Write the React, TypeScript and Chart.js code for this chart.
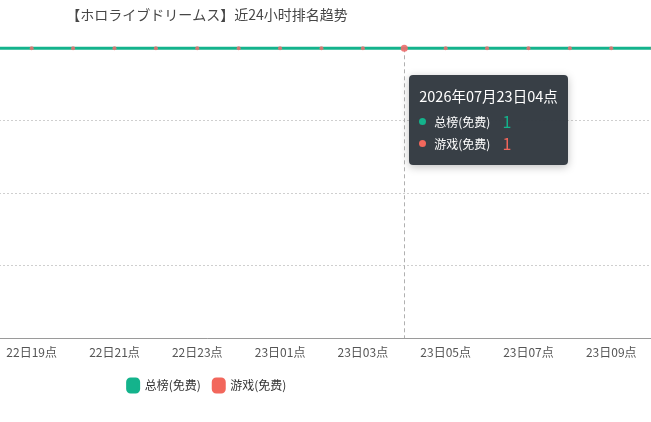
import { useEffect, useRef } from "react";
import { Chart, registerables } from "chart.js";

Chart.register(...registerables);

const titleText = "【ホロライブドリームス】近24小时排名趋势";

const times = [
  "2026年07月22日10点",
  "2026年07月22日11点",
  "2026年07月22日12点",
  "2026年07月22日13点",
  "2026年07月22日14点",
  "2026年07月22日15点",
  "2026年07月22日16点",
  "2026年07月22日17点",
  "2026年07月22日18点",
  "2026年07月22日19点",
  "2026年07月22日20点",
  "2026年07月22日21点",
  "2026年07月22日22点",
  "2026年07月22日23点",
  "2026年07月23日00点",
  "2026年07月23日01点",
  "2026年07月23日02点",
  "2026年07月23日03点",
  "2026年07月23日04点",
  "2026年07月23日05点",
  "2026年07月23日06点",
  "2026年07月23日07点",
  "2026年07月23日08点",
  "2026年07月23日09点",
  "2026年07月23日10点",
];

const tickTimes = [
  "2026年07月22日19点",
  "2026年07月22日21点",
  "2026年07月22日23点",
  "2026年07月23日01点",
  "2026年07月23日03点",
  "2026年07月23日05点",
  "2026年07月23日07点",
  "2026年07月23日09点",
];

const seriesNames = ["总榜(免费)", "游戏(免费)"];
const totalRank = [1, 1, 1, 1, 1, 1, 1, 1, 1, 1, 1, 1, 1, 1, 1, 1, 1, 1, 1, 1, 1, 1, 1, 1, 1];
const gameRank = [1, 1, 1, 1, 1, 1, 1, 1, 1, 1, 1, 1, 1, 1, 1, 1, 1, 1, 1, 1, 1, 1, 1, 1, 1];

const hoverTime = "2026年07月23日04点";

const GREEN = "#14b38c";
const RED = "#f2675c";
const FONT = '"Noto Sans CJK SC", "Noto Sans", sans-serif';

// dashed vertical pointer line under the hovered column
const crosshair = {
  id: "crosshair",
  beforeDatasetsDraw(chart: any) {
    const active = chart.tooltip?.getActiveElements() || [];
    if (!active.length) return;
    const x = active[0].element.x;
    const { top, bottom } = chart.chartArea;
    const ctx = chart.ctx;
    ctx.save();
    ctx.strokeStyle = "#b0b0b0";
    ctx.lineWidth = 1;
    ctx.setLineDash([4, 3]);
    ctx.beginPath();
    ctx.moveTo(Math.round(x) + 0.5, top);
    ctx.lineTo(Math.round(x) + 0.5, bottom);
    ctx.stroke();
    ctx.restore();
  },
};

export default function App() {
  const canvasRef = useRef<HTMLCanvasElement | null>(null);
  const tipRef = useRef<HTMLDivElement | null>(null);

  useEffect(() => {
    if (!canvasRef.current) return;

    const colors = [GREEN, RED];

    const externalTooltip = (context: any) => {
      const { chart, tooltip } = context;
      const el = tipRef.current;
      if (!el) return;
      if (tooltip.opacity === 0) {
        el.style.opacity = "0";
        return;
      }
      const rows = tooltip.dataPoints
        .map(
          (p: any) =>
            `<div style="display:flex;align-items:center;height:22px">` +
            `<span style="display:inline-block;width:7px;height:7px;border-radius:50%;background:${colors[p.datasetIndex]};margin-right:8px"></span>` +
            `<span style="font-size:12px;color:#fff">${p.dataset.label}</span>` +
            `<span style="font-size:16px;color:${colors[p.datasetIndex]};margin-left:12px">${p.raw.y}</span>` +
            `</div>`
        )
        .join("");
      el.innerHTML =
        `<div style="font-size:14.5px;color:#fff;line-height:20px;margin-bottom:4px">${times[tooltip.dataPoints[0].raw.x]}</div>` +
        rows;
      el.style.opacity = "1";
      el.style.left = chart.canvas.offsetLeft + tooltip.caretX + 5 + "px";
      el.style.top = chart.canvas.offsetTop + chart.chartArea.top + 27 + "px";
    };

    const chart = new Chart(canvasRef.current, {
      type: "line",
      data: {
        datasets: [
          {
            label: seriesNames[0],
            data: totalRank.map((v, i) => ({ x: i, y: v })),
            borderColor: GREEN,
            backgroundColor: GREEN,
            borderWidth: 3,
            pointRadius: 0,
            pointHoverRadius: 0,
            order: 1,
            clip: { left: 0, right: 0, top: 10, bottom: 10 },
          },
          {
            label: seriesNames[1],
            data: gameRank.map((v, i) => ({ x: i, y: v })),
            borderColor: RED,
            backgroundColor: RED,
            showLine: false,
            pointRadius: 2,
            pointBorderWidth: 0,
            pointBackgroundColor: "rgba(238,110,110,0.85)",
            pointHoverRadius: 3.5,
            pointHoverBorderWidth: 0,
            pointHoverBackgroundColor: "rgba(238,110,110,0.9)",
            order: 0,
            clip: { left: 0, right: 0, top: 10, bottom: 10 },
          },
        ],
      },
      options: {
        responsive: false,
        animation: false,
        events: [],
        layout: { autoPadding: false, padding: { left: 0, right: 0, top: 0, bottom: 20 } },
        scales: {
          x: {
            type: "linear",
            min: 2.51,
            max: 23.96,
            afterBuildTicks: (scale: any) => {
              scale.ticks = tickTimes.map((t) => ({ value: times.indexOf(t) }));
            },
            afterFit: (scale: any) => {
              scale.paddingLeft = 0;
              scale.paddingRight = 0;
            },
            ticks: {
              autoSkip: false,
              maxRotation: 0,
              padding: 7,
              color: "#555",
              font: { family: FONT, size: 12 },
              callback: (v: any) => times[v].slice(8),
            },
            grid: { display: false, drawTicks: false },
            border: { display: true, color: "#9a9a9a", width: 1 },
          },
          y: {
            type: "linear",
            reverse: true,
            min: 1,
            max: 5,
            afterFit: (scale: any) => {
              scale.width = 0;
            },
            ticks: { display: false, stepSize: 1 },
            grid: { color: "#cfcfcf", drawTicks: false },
            border: { display: false, dash: [2, 2] },
          },
        },
        plugins: {
          title: {
            display: true,
            text: titleText,
            color: "#464646",
            font: { family: FONT, size: 14, weight: "normal" },
            padding: { top: 6, bottom: 25.5 },
          },
          legend: {
            position: "bottom",
            labels: {
              boxWidth: 11,
              boxHeight: 13,
              useBorderRadius: true,
              borderRadius: 3,
              padding: 12.5,
              color: "#333",
              font: { family: FONT, size: 12 },
              sort: (a: any, b: any) => a.datasetIndex - b.datasetIndex,
            },
          },
          tooltip: {
            enabled: false,
            mode: "index",
            intersect: false,
            itemSort: (a: any, b: any) => a.datasetIndex - b.datasetIndex,
            external: externalTooltip,
          },
        },
      },
      plugins: [crosshair],
    } as any);

    const idx = times.indexOf(hoverTime);
    const active = [
      { datasetIndex: 0, index: idx },
      { datasetIndex: 1, index: idx },
    ];
    const pt = chart.getDatasetMeta(0).data[idx];
    chart.setActiveElements(active);
    chart.tooltip?.setActiveElements(active, { x: pt.x, y: pt.y });
    chart.update();

    return () => {
      chart.destroy();
    };
  }, []);

  return (
    <div
      style={{
        position: "absolute",
        left: 0,
        top: 0,
        width: 651,
        height: 422,
        overflow: "hidden",
        background: "#fff",
        fontFamily: FONT,
      }}
    >
      <canvas
        ref={canvasRef}
        width={888}
        height={422}
        style={{ position: "absolute", left: -237, top: 0, width: 888, height: 422 }}
      />
      <div
        ref={tipRef}
        style={{
          position: "absolute",
          opacity: 0,
          pointerEvents: "none",
          background: "rgba(50,57,64,0.97)",
          borderRadius: 4,
          padding: "11px 10px 11px 10px",
          minWidth: 138,
          boxShadow: "0 2px 8px rgba(0,0,0,0.25)",
          whiteSpace: "nowrap",
        }}
      />
    </div>
  );
}
